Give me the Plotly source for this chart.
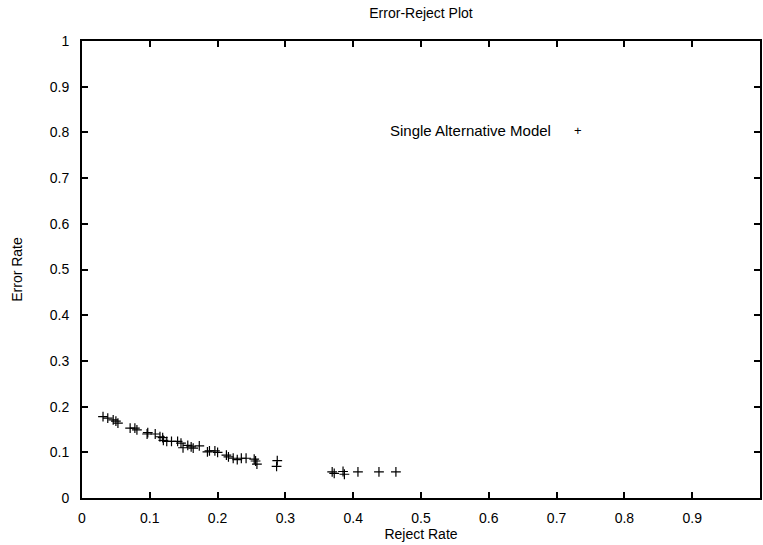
import plotly.graph_objects as go

reject_rate = [0.031, 0.038, 0.046, 0.050, 0.053, 0.071, 0.078, 0.081, 0.096, 0.097,
               0.108, 0.115, 0.119, 0.120, 0.125, 0.132, 0.141, 0.146, 0.149, 0.156,
               0.161, 0.164, 0.173, 0.185, 0.188, 0.196, 0.200, 0.213, 0.216, 0.223,
               0.229, 0.235, 0.242, 0.254, 0.256, 0.258, 0.288, 0.287, 0.369, 0.372,
               0.385, 0.387, 0.407, 0.438, 0.463]
error_rate = [0.178, 0.175, 0.171, 0.168, 0.164, 0.153, 0.153, 0.149, 0.140, 0.143,
              0.140, 0.134, 0.132, 0.126, 0.124, 0.124, 0.124, 0.120, 0.110, 0.115,
              0.112, 0.109, 0.114, 0.101, 0.103, 0.103, 0.100, 0.094, 0.090, 0.087,
              0.084, 0.087, 0.087, 0.085, 0.081, 0.074, 0.082, 0.069, 0.057, 0.054,
              0.058, 0.052, 0.057, 0.057, 0.057]
ticks = [round(0.1 * i, 1) for i in range(11)]
tick_text = ["0", "0.1", "0.2", "0.3", "0.4", "0.5", "0.6", "0.7", "0.8", "0.9", "1"]

FONT = "Liberation Sans, Arial, sans-serif"
FS = 14

fig = go.Figure()
fig.add_trace(go.Scatter(
    x=reject_rate, y=error_rate, mode="markers",
    marker=dict(symbol="cross-thin-open", size=7, color="black",
                line=dict(color="black", width=1.2)),
    name="Single Alternative Model", showlegend=False,
))

axis_common = dict(
    range=[0, 1], tickmode="array", tickvals=ticks, ticktext=tick_text,
    ticks="inside", ticklen=6, tickwidth=2, tickcolor="black",
    showline=True, linewidth=2, linecolor="black", mirror="ticks",
    showgrid=False, zeroline=False,
    tickfont=dict(family=FONT, size=FS, color="black"),
)

fig.update_layout(
    width=763, height=545,
    margin=dict(l=82, r=1, t=41, b=47),
    paper_bgcolor="white", plot_bgcolor="white",
    title=dict(text="Error-Reject Plot", x=0.5, xanchor="center", xref="paper",
               y=1 - 13 / 545, yanchor="middle",
               font=dict(family=FONT, size=FS, color="black")),
    xaxis=dict(**axis_common, ticklabelstandoff=6,
               title=dict(text="Reject Rate", standoff=4,
                          font=dict(family=FONT, size=FS, color="black"))),
    yaxis=dict(**axis_common, ticklabelstandoff=8,
               title=dict(text="Error Rate", standoff=24,
                          font=dict(family=FONT, size=FS, color="black"))),
    annotations=[
        dict(text="Single Alternative Model", x=0.694, y=0.805, xref="paper", yref="paper",
             xanchor="right", yanchor="middle", showarrow=False,
             font=dict(family=FONT, size=15, color="black")),
        dict(text="+", x=0.731, y=0.805, xref="paper", yref="paper",
             xanchor="center", yanchor="middle", showarrow=False,
             font=dict(family=FONT, size=13, color="black")),
    ],
)

fig.write_html("out.html")
